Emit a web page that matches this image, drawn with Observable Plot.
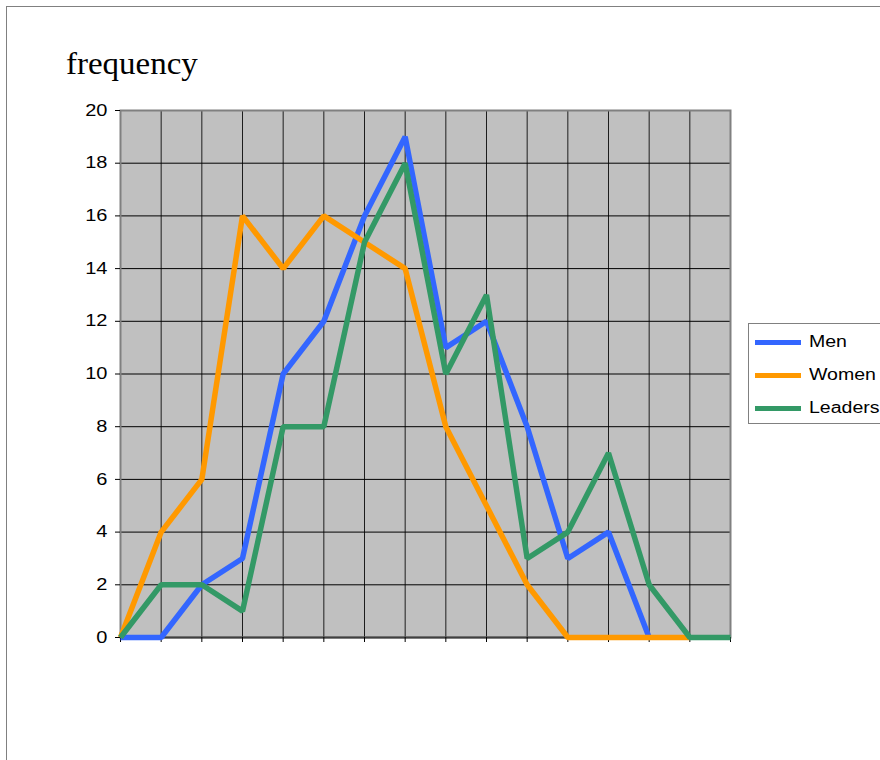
<!DOCTYPE html>
<html>
<head>
<meta charset="utf-8">
<script src="https://cdn.jsdelivr.net/npm/d3@7"></script>
<script src="https://cdn.jsdelivr.net/npm/@observablehq/plot@0.6"></script>
<style>
  html, body { margin: 0; padding: 0; background: #fff; overflow: hidden; }
  #wrap { position: relative; width: 880px; height: 760px; }
  #outer { position: absolute; left: 6px; top: 6px; width: 900px; height: 800px; border: 1px solid #808080; box-sizing: border-box; }
  #title { position: absolute; left: 66px; top: 47px; line-height: 1; font-family: "Liberation Serif", "Times New Roman", serif; font-size: 32px; color: #000; display: inline-block; transform: scaleX(1.03); transform-origin: left center; }
  #chart { position: absolute; left: 0; top: 0; }
  #legend { position: absolute; left: 748px; top: 323px; width: 150px; height: 101px; border: 1px solid #808080; box-sizing: border-box; background: #fff; }
  .item { position: absolute; left: 6px; height: 20px; display: flex; align-items: center; }
  .sw { width: 46px; height: 5px; margin-right: 8px; }
  .lab { font-family: "Liberation Sans", Arial, sans-serif; font-size: 16px; color: #000; display: inline-block; transform: scaleX(1.22); transform-origin: left center; }
</style>
</head>
<body>
<div id="wrap">
  <div id="outer"></div>
  <div id="chart"></div>
  <div id="title">frequency</div>
  <div id="legend"></div>
</div>
<script>
// ---- data ----
const bins = [0, 1, 2, 3, 4, 5, 6, 7, 8, 9, 10, 11, 12, 13, 14, 15];
const yTicks = [0, 2, 4, 6, 8, 10, 12, 14, 16, 18, 20];
const seriesNames = ["Men", "Women", "Leaders"];
const seriesColors = ["#3366FF", "#FF9900", "#339966"];
const men = [0, 0, 2, 3, 10, 12, 16, 19, 11, 12, 8, 3, 4, 0];
const women = [0, 4, 6, 16, 14, 16, 15, 14, 8, 5, 2, 0, 0, 0, 0];
const leaders = [0, 2, 2, 1, 8, 8, 15, 18, 10, 13, 3, 4, 7, 2, 0, 0];

const seriesValues = [men, women, leaders];
const rows = [];
seriesValues.forEach((vals, s) => {
  vals.forEach((v, i) => rows.push({series: seriesNames[s], bin: bins[i], value: v}));
});

const plot = Plot.plot({
  width: 880,
  height: 760,
  marginLeft: 120,
  marginRight: 150,
  marginTop: 110,
  marginBottom: 123,
  x: {domain: [0, 15], axis: null, label: null},
  y: {domain: [0, 20], axis: null, label: null},
  color: {domain: seriesNames, range: seriesColors},
  style: {fontFamily: "'Liberation Sans', Arial, sans-serif", fontSize: "16px", color: "#000", background: "transparent"},
  marks: [
    Plot.frame({fill: "#C0C0C0", stroke: null}),
    Plot.ruleX(bins.slice(1, -1), {stroke: "#000", strokeWidth: 1, strokeOpacity: 0.85}),
    Plot.ruleY(yTicks.slice(1, -1), {stroke: "#000", strokeWidth: 1}),
    Plot.frame({stroke: "#808080", strokeWidth: 2, fill: null}),
    Plot.ruleY([0], {stroke: "#404040", strokeWidth: 2}),
    Plot.axisY(yTicks, {tickSize: 5, tickPadding: 8, stroke: "#000", fill: "#000", fontSize: 16, label: null}),
    Plot.axisX(bins, {tickSize: 5, tickFormat: () => "", stroke: "#000", label: null}),
    Plot.line(rows, {x: "bin", y: "value", z: "series", stroke: "series", strokeWidth: 5.5, strokeLinejoin: "miter", strokeLinecap: "butt"})
  ]
});
document.getElementById("chart").appendChild(plot);

// widen tick-label glyphs like the original rendering
d3.select(plot).selectAll('g[aria-label="y-axis tick label"] text').each(function () {
  const t = this.getAttribute("transform") || "";
  this.setAttribute("transform", t + " scale(1.25,1)");
});

// legend
const legend = document.getElementById("legend");
seriesNames.forEach((name, i) => {
  const item = document.createElement("div");
  item.className = "item";
  item.style.top = (8 + i * 33) + "px";
  const sw = document.createElement("div");
  sw.className = "sw";
  sw.style.background = seriesColors[i];
  const lab = document.createElement("span");
  lab.className = "lab";
  lab.textContent = name;
  item.appendChild(sw);
  item.appendChild(lab);
  legend.appendChild(item);
});
</script>
</body>
</html>
